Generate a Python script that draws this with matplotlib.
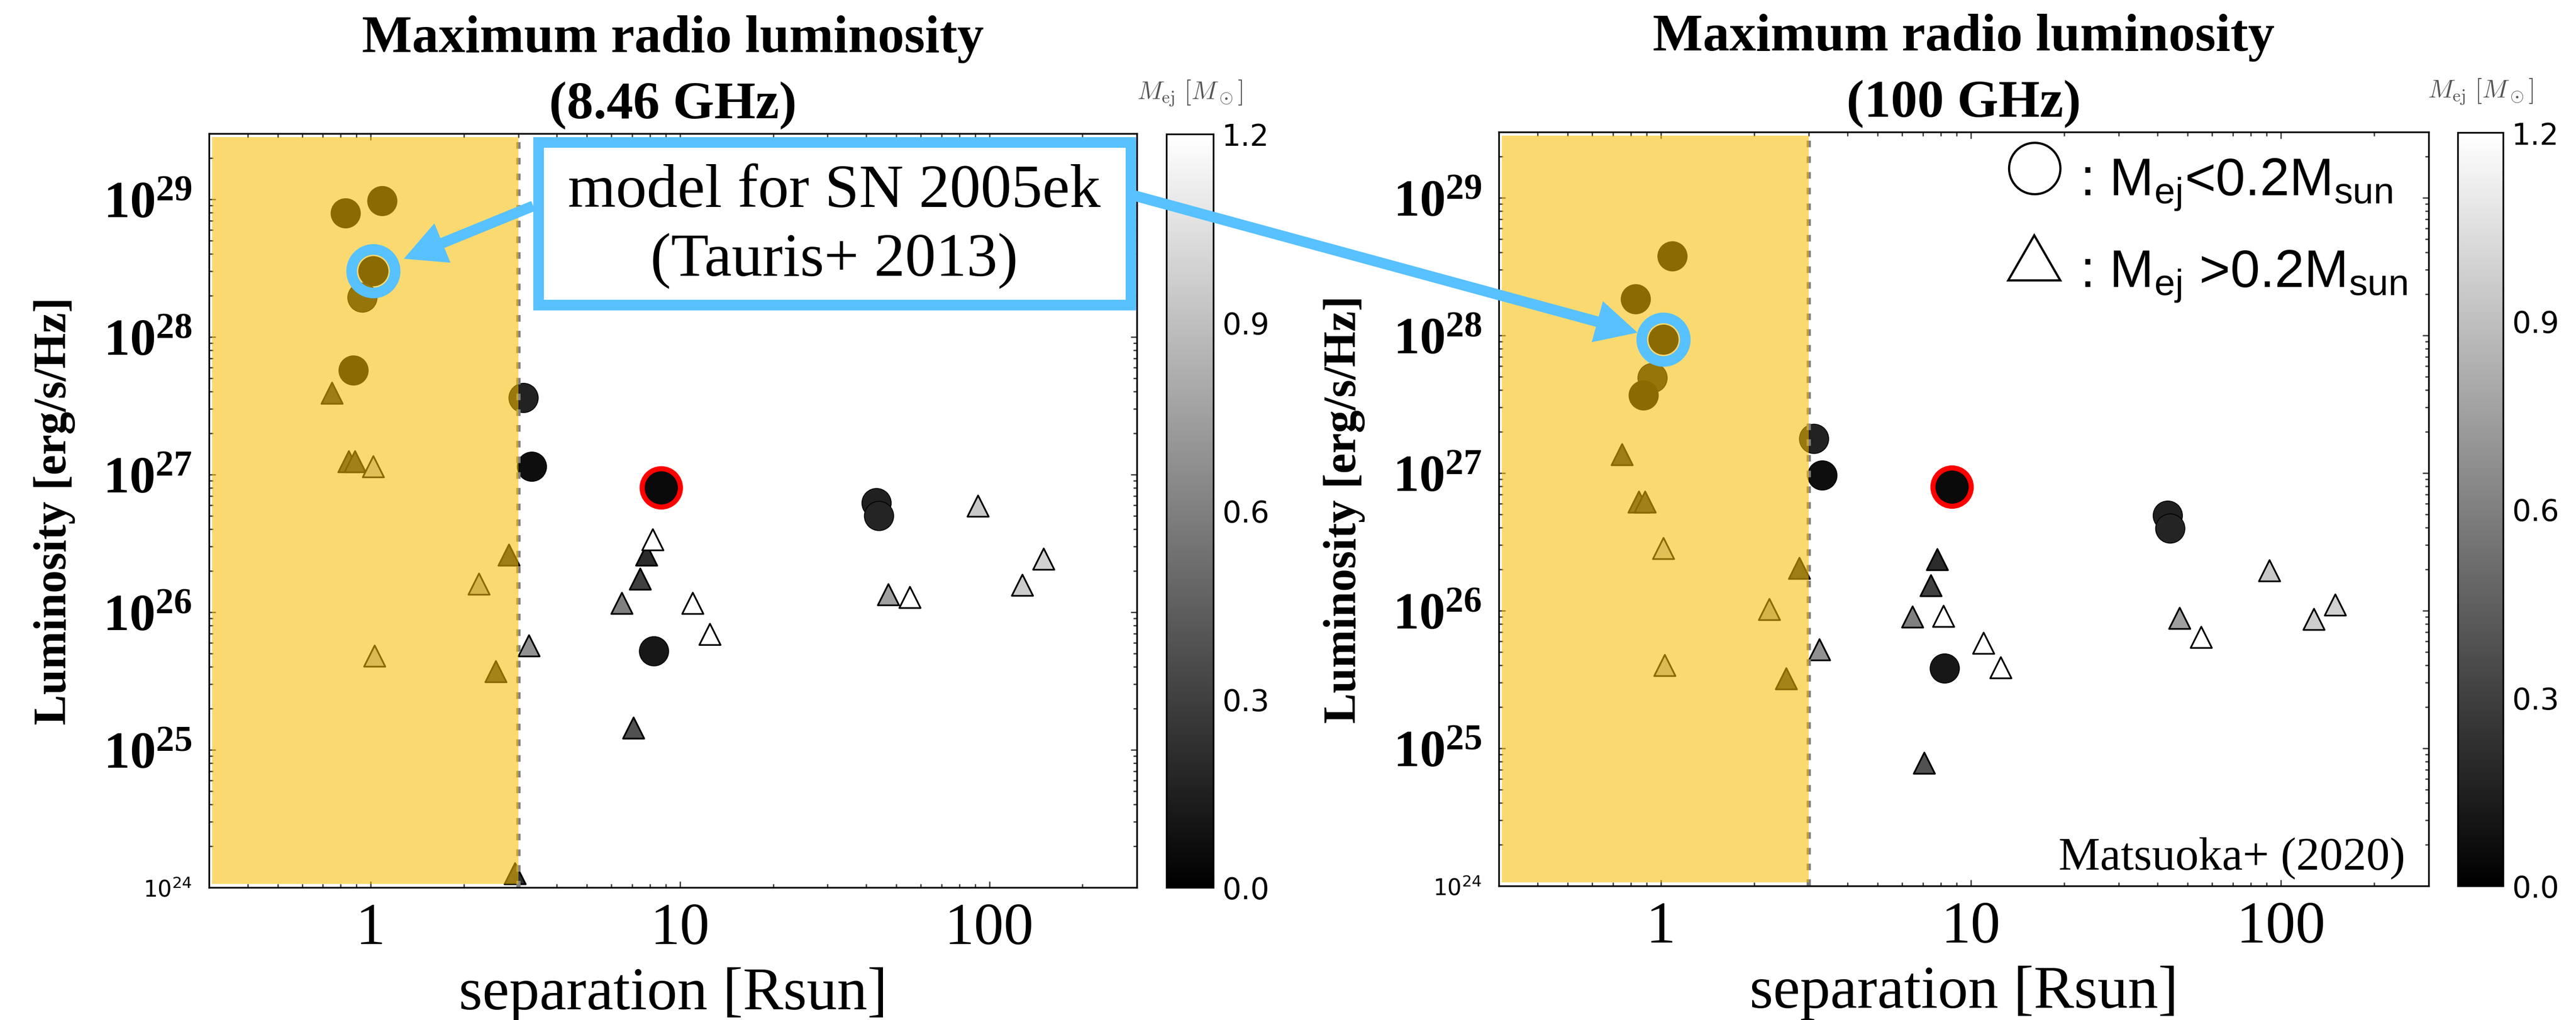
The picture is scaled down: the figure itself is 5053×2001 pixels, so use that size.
import numpy as np
import matplotlib
matplotlib.use('Agg')
import matplotlib.pyplot as plt
from matplotlib.colors import Normalize
from matplotlib.patches import Rectangle, ConnectionPatch, ArrowStyle
from matplotlib.ticker import NullFormatter

plt.rcParams['font.family'] = 'Liberation Serif'
plt.rcParams['mathtext.fontset'] = 'custom'
plt.rcParams['mathtext.rm'] = 'Liberation Sans'
plt.rcParams['mathtext.bf'] = 'Liberation Serif:bold'
plt.rcParams['mathtext.sf'] = 'DejaVu Sans'

# models with M_ej < 0.2 Msun (circles)
sep_circ = [0.83, 1.09, 1.02, 0.94, 0.88, 3.12, 3.32, 8.7, 8.24, 43.2, 44.0]
mej_circ = [0.02, 0.02, 0.02, 0.13, 0.02, 0.16, 0.07, 0.05, 0.11, 0.15, 0.17]
lum_circ_846 = [7.9e28, 9.7e28, 3.0e28, 1.93e28, 5.7e27, 3.6e27, 1.14e27, 8.0e26, 5.2e25, 6.2e26, 5.0e26]
lum_circ_100 = [1.83e28, 3.75e28, 9.3e27, 4.9e27, 3.66e27, 1.77e27, 9.6e26, 7.9e26, 3.8e25, 4.9e26, 3.95e26]

# models with M_ej > 0.2 Msun (triangles)
sep_tri = [0.75, 0.85, 0.89, 1.02, 2.24, 2.8, 1.03, 2.54, 2.93, 3.25, 7.8, 8.17,
           7.44, 6.49, 11.0, 12.5, 7.08, 92.0, 47.2, 55.4, 150.0, 128.0]
mej_tri = [0.22, 0.25, 0.25, 0.92, 0.8, 0.22, 0.87, 0.28, 0.21, 0.68, 0.21, 1.2,
           0.3, 0.6, 1.2, 1.2, 0.38, 0.94, 0.75, 1.2, 0.98, 0.96]
lum_tri_846 = [3.9e27, 1.24e27, 1.24e27, 1.14e27, 1.6e26, 2.6e26, 4.8e25, 3.7e25, 1.26e24, 5.7e25, 2.6e26, 3.36e26,
               1.74e26, 1.16e26, 1.16e26, 6.9e25, 1.44e25, 5.9e26, 1.34e26, 1.28e26, 2.43e26, 1.57e26]
lum_tri_100 = [1.36e27, 6.15e26, 6.15e26, 2.83e26, 1.02e26, 2.03e26, 4.0e25, 3.2e25, np.nan, 5.2e25, 2.35e26, 9.1e25,
               1.52e26, 9.0e25, 5.8e25, 3.85e25, 7.8e24, 1.95e26, 8.8e25, 6.4e25, 1.1e26, 8.65e25]

sn_idx = 2    # model for SN 2005ek
red_idx = 7   # highlighted model
sep_limit = 3.0

xtick_vals = [1, 10, 100]
xtick_labels = ['1', '10', '100']
ytick_vals = [1e24, 1e25, 1e26, 1e27, 1e28, 1e29]
ytick_labels = [r'$\mathsf{10^{24}}$', r'$\mathbf{10^{25}}$', r'$\mathbf{10^{26}}$',
                r'$\mathbf{10^{27}}$', r'$\mathbf{10^{28}}$', r'$\mathbf{10^{29}}$']
cbar_ticks = [0.0, 0.3, 0.6, 0.9, 1.2]
cbar_labels = ['0.0', '0.3', '0.6', '0.9', '1.2']

W, H = 5053, 2002
blue = '#58C1FF'
norm = Normalize(0, 1.2)

fig = plt.figure(figsize=(W / 300, H / 300), dpi=300)


def px_box(x0, y0, x1, y1):
    return [x0 / W, 1 - y1 / H, (x1 - x0) / W, (y1 - y0) / H]


def draw_panel(ax, cax, lum_c, lum_t, title):
    ax.scatter(sep_tri, lum_t, c=mej_tri, cmap='gray', norm=norm, marker='^', s=100,
               edgecolors='k', linewidths=0.8, zorder=2)
    n = len(sep_circ)
    sizes = [190] * n
    sizes[red_idx] = 325
    ecol = ['k'] * n
    ecol[red_idx] = 'red'
    lws = [0.4] * n
    lws[red_idx] = 2.4
    sc = ax.scatter(sep_circ, lum_c, c=mej_circ, cmap='gray', norm=norm, marker='o', s=sizes,
                    edgecolors=ecol, linewidths=lws, zorder=2)
    ax.axvline(sep_limit, color='0.5', lw=2.0, ls=(0, (1.55, 2.15)), zorder=2.5)
    ax.axvspan(0.307, sep_limit, ymin=0.005, ymax=0.995, color=(0.97, 0.74, 0.0), alpha=0.56, lw=0, zorder=3)
    ax.scatter([sep_circ[sn_idx]], [lum_c[sn_idx]], s=420, facecolors='none', edgecolors=blue,
               linewidths=5, zorder=5)

    ax.set_xscale('log')
    ax.set_yscale('log')
    ax.set_xlim(0.3, 300)
    ax.set_ylim(1e24, 3e29)
    ax.set_xticks(xtick_vals, xtick_labels, fontsize=28)
    ax.set_yticks(ytick_vals, ytick_labels, fontsize=24.5)
    ax.get_yticklabels()[0].set_fontsize(10.5)
    ax.xaxis.set_minor_formatter(NullFormatter())
    ax.yaxis.set_minor_formatter(NullFormatter())
    ax.tick_params(which='both', direction='in', top=True, right=True, color='#333', width=0.6)
    ax.tick_params(which='major', length=3)
    ax.tick_params(which='minor', length=1.8)
    ax.tick_params(axis='x', pad=7)
    ax.tick_params(axis='y', pad=8)
    for s in ax.spines.values():
        s.set_linewidth(0.8)

    ax.set_title(title, fontsize=25, fontweight='bold', linespacing=1.5, pad=7.5)
    ax.set_xlabel('separation [Rsun]', fontsize=28.5, labelpad=5)
    ax.set_ylabel('Luminosity [erg/s/Hz]', fontsize=21.5, fontweight='bold', labelpad=13)

    cb = fig.colorbar(sc, cax=cax)
    cb.set_ticks(cbar_ticks)
    cb.set_ticklabels(cbar_labels)
    cb.outline.set_linewidth(0.8)
    cax.tick_params(length=0, labelsize=14, pad=4)
    for t in cax.get_yticklabels():
        t.set_fontfamily('DejaVu Sans')
    cax.set_title(r'$M_{\rm ej}\ [M_\odot]$', fontsize=12, color='#555555', pad=17, math_fontfamily='cm')


ax1 = fig.add_axes(px_box(410, 263, 2230, 1742))
cax1 = fig.add_axes(px_box(2288, 264, 2380, 1742))
ax2 = fig.add_axes(px_box(2940, 260, 4764, 1739))
cax2 = fig.add_axes(px_box(4821, 261, 4910, 1739))

draw_panel(ax1, cax1, lum_circ_846, lum_tri_846, 'Maximum radio luminosity\n(8.46 GHz)')
draw_panel(ax2, cax2, lum_circ_100, lum_tri_100, 'Maximum radio luminosity\n(100 GHz)')

# legend keys in the right panel
ax2.text(0.5757, 0.9446, '○', transform=ax2.transAxes, ha='center', va='center', fontsize=28,
         family='Noto Sans CJK JP')
ax2.text(0.5757, 0.8235, '△', transform=ax2.transAxes, ha='center', va='center', fontsize=28,
         family='Noto Sans CJK JP')
ax2.text(0.625, 0.9168, r': $\mathrm{M_{ej}}$<0.2$\mathrm{M_{sun}}$', transform=ax2.transAxes,
         fontsize=25, family='Liberation Sans', va='baseline')
ax2.text(0.625, 0.7945, r': $\mathrm{M_{ej}}$ >0.2$\mathrm{M_{sun}}$', transform=ax2.transAxes,
         fontsize=25, family='Liberation Sans', va='baseline')
ax2.text(0.9748, 0.0223, 'Matsuoka+ (2020)', transform=ax2.transAxes, ha='right', va='baseline',
         fontsize=22)

# annotation box and arrows
fig.add_artist(Rectangle((1055.5 / W, 1 - 598.5 / H), (2217.5 - 1055.5) / W, (598.5 - 279.5) / H,
                         transform=fig.transFigure, facecolor='white', edgecolor=blue, lw=5, zorder=5))
fig.text(1636 / W, 1 - 445 / H, 'model for SN 2005ek\n(Tauris+ 2013)', ha='center', va='center',
         fontsize=29, linespacing=1.3, zorder=6)

style = ArrowStyle.Simple(head_length=0.98, head_width=1.0, tail_width=0.25)
for ax, lum_c, start, shrink in [(ax1, lum_circ_846, (1046, 405), 15.5),
                                 (ax2, lum_circ_100, (2226, 385), 12.7)]:
    con = ConnectionPatch(xyA=(start[0] / W, 1 - start[1] / H), coordsA=fig.transFigure,
                          xyB=(sep_circ[sn_idx], lum_c[sn_idx]), coordsB=ax.transData,
                          arrowstyle=style, mutation_scale=20, color=blue, lw=0,
                          shrinkA=0, shrinkB=shrink, zorder=4)
    fig.add_artist(con)

fig.savefig('out.png', dpi=300)
